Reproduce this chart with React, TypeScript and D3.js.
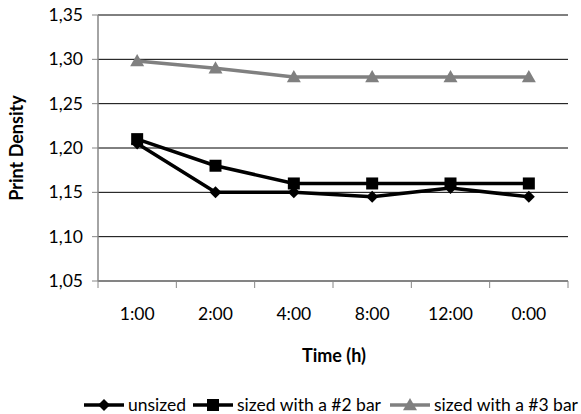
import React from "react";
import * as d3 from "d3";

const categories = ["1:00", "2:00", "4:00", "8:00", "12:00", "0:00"];
const unsized = [1.205, 1.15, 1.15, 1.145, 1.155, 1.145];
const sized2 = [1.21, 1.18, 1.16, 1.16, 1.16, 1.16];
const sized3 = [1.298, 1.29, 1.28, 1.28, 1.28, 1.28];
const yTicks = [1.05, 1.1, 1.15, 1.2, 1.25, 1.3, 1.35];
const seriesNames = ["unsized", "sized with a #2 bar", "sized with a #3 bar"];

const W = 581, H = 414;
const left = 98, right = 568, top = 15, bottom = 281;
const FONT = "Lato, 'Open Sans', sans-serif";

export default function App() {
  const x = d3.scaleBand<string>().domain(categories).range([left, right]);
  const y = d3.scaleLinear().domain([1.05, 1.35]).range([bottom, top]);
  const line = d3.line<number>().x((_, i) => x(categories[i])! + x.bandwidth() / 2).y((d) => y(d));
  const series = [
    { name: seriesNames[0], data: unsized, color: "#000", marker: "diamond" },
    { name: seriesNames[1], data: sized2, color: "#000", marker: "square" },
    { name: seriesNames[2], data: sized3, color: "#808080", marker: "triangle" },
  ];
  const marker = (m: string, cx: number, cy: number, color: string, key: any) => {
    if (m === "diamond") {
      const s = 6;
      return <path key={key} d={`M${cx},${cy - s}L${cx + s},${cy}L${cx},${cy + s}L${cx - s},${cy}Z`} fill={color} />;
    }
    if (m === "square") {
      const s = 6;
      return <rect key={key} x={cx - s} y={cy - s} width={2 * s} height={2 * s} fill={color} />;
    }
    const s = 7;
    return <path key={key} d={`M${cx},${cy - s}L${cx + s},${cy + s * 0.75}L${cx - s},${cy + s * 0.75}Z`} fill={color} />;
  };
  const xTickPos = [...categories.map((c) => x(c)!), right];
  const legendItems = [
    { lx: 84, tx: 128 },
    { lx: 193, tx: 237 },
    { lx: 390, tx: 434 },
  ];
  return (
    <svg width={W} height={H} style={{ position: "absolute", left: 0, top: 0, background: "#fff" }}>
      {yTicks.map((t) => (
        <g key={t}>
          <line x1={left} x2={right} y1={y(t)} y2={y(t)} stroke="#000" strokeWidth={1} />
          <line x1={left - 6} x2={left} y1={y(t)} y2={y(t)} stroke="#868686" strokeWidth={1} />
          <text x={left - 15} y={y(t)} dy="0.35em" textAnchor="end" fontFamily={FONT} fontSize={17.5} fill="#000">
            {d3.format(".2f")(t).replace(".", ",")}
          </text>
        </g>
      ))}
      <line x1={left} x2={left} y1={top} y2={bottom} stroke="#868686" strokeWidth={1.5} />
      <line x1={left} x2={right} y1={bottom} y2={bottom} stroke="#868686" strokeWidth={1.5} />
      {xTickPos.map((p, i) => (
        <line key={i} x1={p} x2={p} y1={bottom} y2={bottom + 7} stroke="#868686" strokeWidth={1} />
      ))}
      {categories.map((c) => (
        <text key={c} x={x(c)! + x.bandwidth() / 2} y={320} textAnchor="middle" fontFamily={FONT} fontSize={17.5} fill="#000">
          {c}
        </text>
      ))}
      <text x={334} y={362} textAnchor="middle" fontFamily={FONT} fontSize={18} fontWeight="bold">Time (h)</text>
      <text transform={`translate(23,${(top + bottom) / 2}) rotate(-90)`} textAnchor="middle" fontFamily={FONT} fontSize={18} fontWeight="bold">
        Print Density
      </text>
      {series.map((s) => (
        <g key={s.name}>
          <path d={line(s.data)!} fill="none" stroke={s.color} strokeWidth={3.5} strokeLinejoin="round" />
          {s.data.map((v, i) => marker(s.marker, x(categories[i])! + x.bandwidth() / 2, y(v), s.color, i))}
        </g>
      ))}
      {series.map((s, si) => {
        const L = legendItems[si];
        const ly = 405;
        return (
          <g key={"lg" + si}>
            <line x1={L.lx} x2={L.lx + 40} y1={ly} y2={ly} stroke={s.color} strokeWidth={3.5} />
            {marker(s.marker, L.lx + 20, ly, s.color, "m")}
            <text x={L.tx} y={ly} dy="0.35em" fontFamily={FONT} fontSize={17.5} fill="#000">{s.name}</text>
          </g>
        );
      })}
    </svg>
  );
}
